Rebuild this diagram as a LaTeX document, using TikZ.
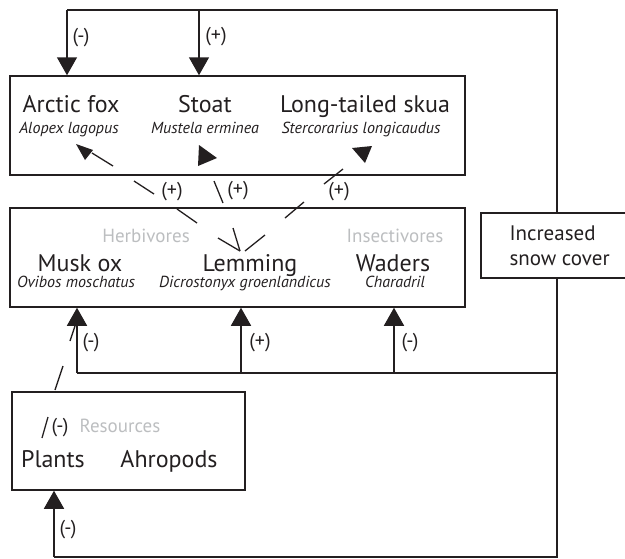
\documentclass[tikz,border=0pt]{standalone}
\usepackage{fontspec}
\setmainfont{PT Sans}
\usepackage{xcolor}
\usetikzlibrary{arrows.meta}
\definecolor{ink}{RGB}{35,31,32}
\definecolor{grouptext}{RGB}{188,190,192}
\tikzset{
    box/.style={draw=ink, line width=1.5pt, inner sep=0pt},
    link/.style={draw=ink, line width=1.5pt},
    feed/.style={-{Triangle[length=18pt,width=20pt]}},
    bit/.style={draw=ink, line width=1.3pt},
    head/.style={fill=ink},
    animal/.style={anchor=base, text=ink, inner sep=0pt, text depth=0pt, font=\fontsize{24}{26}\selectfont},
    latin/.style={anchor=base, text=ink, inner sep=0pt, font=\fontsize{16}{18}\selectfont\itshape},
    group/.style={anchor=base, text=grouptext, inner sep=1pt, font=\fontsize{19}{21}\selectfont},
    sign/.style={text=ink, inner sep=1pt, font=\fontsize{20}{22}\selectfont},
}

\begin{document}
\begin{tikzpicture}[x=1pt,y=-1pt]
    \clip (0,0) rectangle (625,558);
    \useasboundingbox (0,0) rectangle (625,558);

    % boxes
    \node[box, minimum width=455pt, minimum height=99pt] (pred) at (237.5,125.5) {};
    \node[box, minimum width=455pt, minimum height=99pt] (prey) at (237.5,257.5) {};
    \node[box, minimum width=233pt, minimum height=98pt] (res) at (128.5,441) {};
    \node[box, minimum width=160pt, minimum height=65pt] (snow) at (561,245.5) {};

    % predators
    \node[animal] (fox) at (71,112) {Arctic fox};
    \node[latin] (foxlat) at (69,133) {Alopex lagopus};
    \node[animal] (stoat) at (205,112) {Stoat};
    \node[latin] (stoatlat) at (205,133) {Mustela erminea};
    \node[animal] (skua) at (365,112) {Long-tailed skua};
    \node[latin] (skualat) at (361,133) {Stercorarius longicaudus};

    % herbivores and insectivores
    \node[group] (herb) at (146,242) {Herbivores};
    \node[group] (insect) at (395,242) {Insectivores};
    \node[animal] (musk) at (80,271) {Musk ox};
    \node[latin] (musklat) at (76,287) {Ovibos moschatus};
    \node[animal] (lem) at (250,271) {Lemming};
    \node[latin] (lemlat) at (245,287) {Dicrostonyx groenlandicus};
    \node[animal] (wad) at (393,271) {Waders};
    \node[latin] (wadlat) at (395,287) {Charadril};

    % resources
    \node[group] (resname) at (120,432) {Resources};
    \node[sign, anchor=base] (resneg) at (60,432) {(-)};
    \node[animal] (plant) at (53,467) {Plants};
    \node[animal] (arth) at (169,467) {Ahropods};

    % snow
    \node[anchor=base west, text=ink, font=\fontsize{21}{23}\selectfont] (snowa) at (506,240) {Increased};
    \node[anchor=base west, text=ink, font=\fontsize{21}{23}\selectfont] (snowb) at (506,265) {snow cover};

    % snow cover links
    \coordinate (topR) at (557,10);
    \coordinate (foxIn) at (67,10);
    \coordinate (stoatIn) at (199,10);
    \coordinate (midR) at (557,373);
    \coordinate (botR) at (557,557);
    \coordinate (muskIn) at (77,373);
    \coordinate (lemIn) at (241,373);
    \coordinate (wadIn) at (394,373);
    \coordinate (plantIn) at (54,557);

    \draw[link] (topR |- snow.north) -- (topR) -- (foxIn);
    \draw[link,feed] (foxIn) -- (foxIn |- pred.north);
    \draw[link,feed] (stoatIn) -- (stoatIn |- pred.north);
    \draw[link] (topR |- snow.south) -- (botR) -- (plantIn);
    \draw[link,feed] (plantIn) -- (plantIn |- res.south);
    \draw[link] (midR) -- (muskIn);
    \draw[link,feed] (muskIn) -- (muskIn |- prey.south);
    \draw[link,feed] (lemIn) -- (lemIn |- prey.south);
    \draw[link,feed] (wadIn) -- (wadIn |- prey.south);

    \node[sign] (s1) at (81,38) {(-)};
    \node[sign] (s2) at (216,37) {(+)};
    \node[sign] (s3) at (91,343) {(-)};
    \node[sign] (s4) at (260,343) {(+)};
    \node[sign] (s5) at (410,343) {(-)};
    \node[sign] (s6) at (68,530) {(-)};

    % lemming to predators
    \node[sign] (s7) at (172,192) {(+)};
    \node[sign] (s8) at (238,191) {(+)};
    \node[sign] (s9) at (339,192) {(+)};
    \fill[head] (76,144) -- (93,150) -- (85,160) -- cycle;
    \fill[head] (199,145) -- (217,158) -- (198,166) -- cycle;
    \fill[head] (352,148) -- (372,146) -- (365,163) -- cycle;
    \draw[bit] (92,153) -- (113,166);
    \draw[bit] (134,181) -- (154,194);
    \draw[bit] (177,209) -- (197,223);
    \draw[bit] (214,181) -- (223,203);
    \draw[bit] (324,184) -- (343,169);
    \draw[bit] (285,218) -- (304,202);
    \draw[bit] (218,238) -- (240,251);
    \draw[bit] (233,228) -- (240,251);
    \draw[bit] (265,235) -- (245,251);

    % plants to musk ox
    \draw[bit] (70,341) -- (76,323);
    \draw[bit] (55,390) -- (63,366);
    \draw[bit] (42,438) -- (48,417);
\end{tikzpicture}
\end{document}
